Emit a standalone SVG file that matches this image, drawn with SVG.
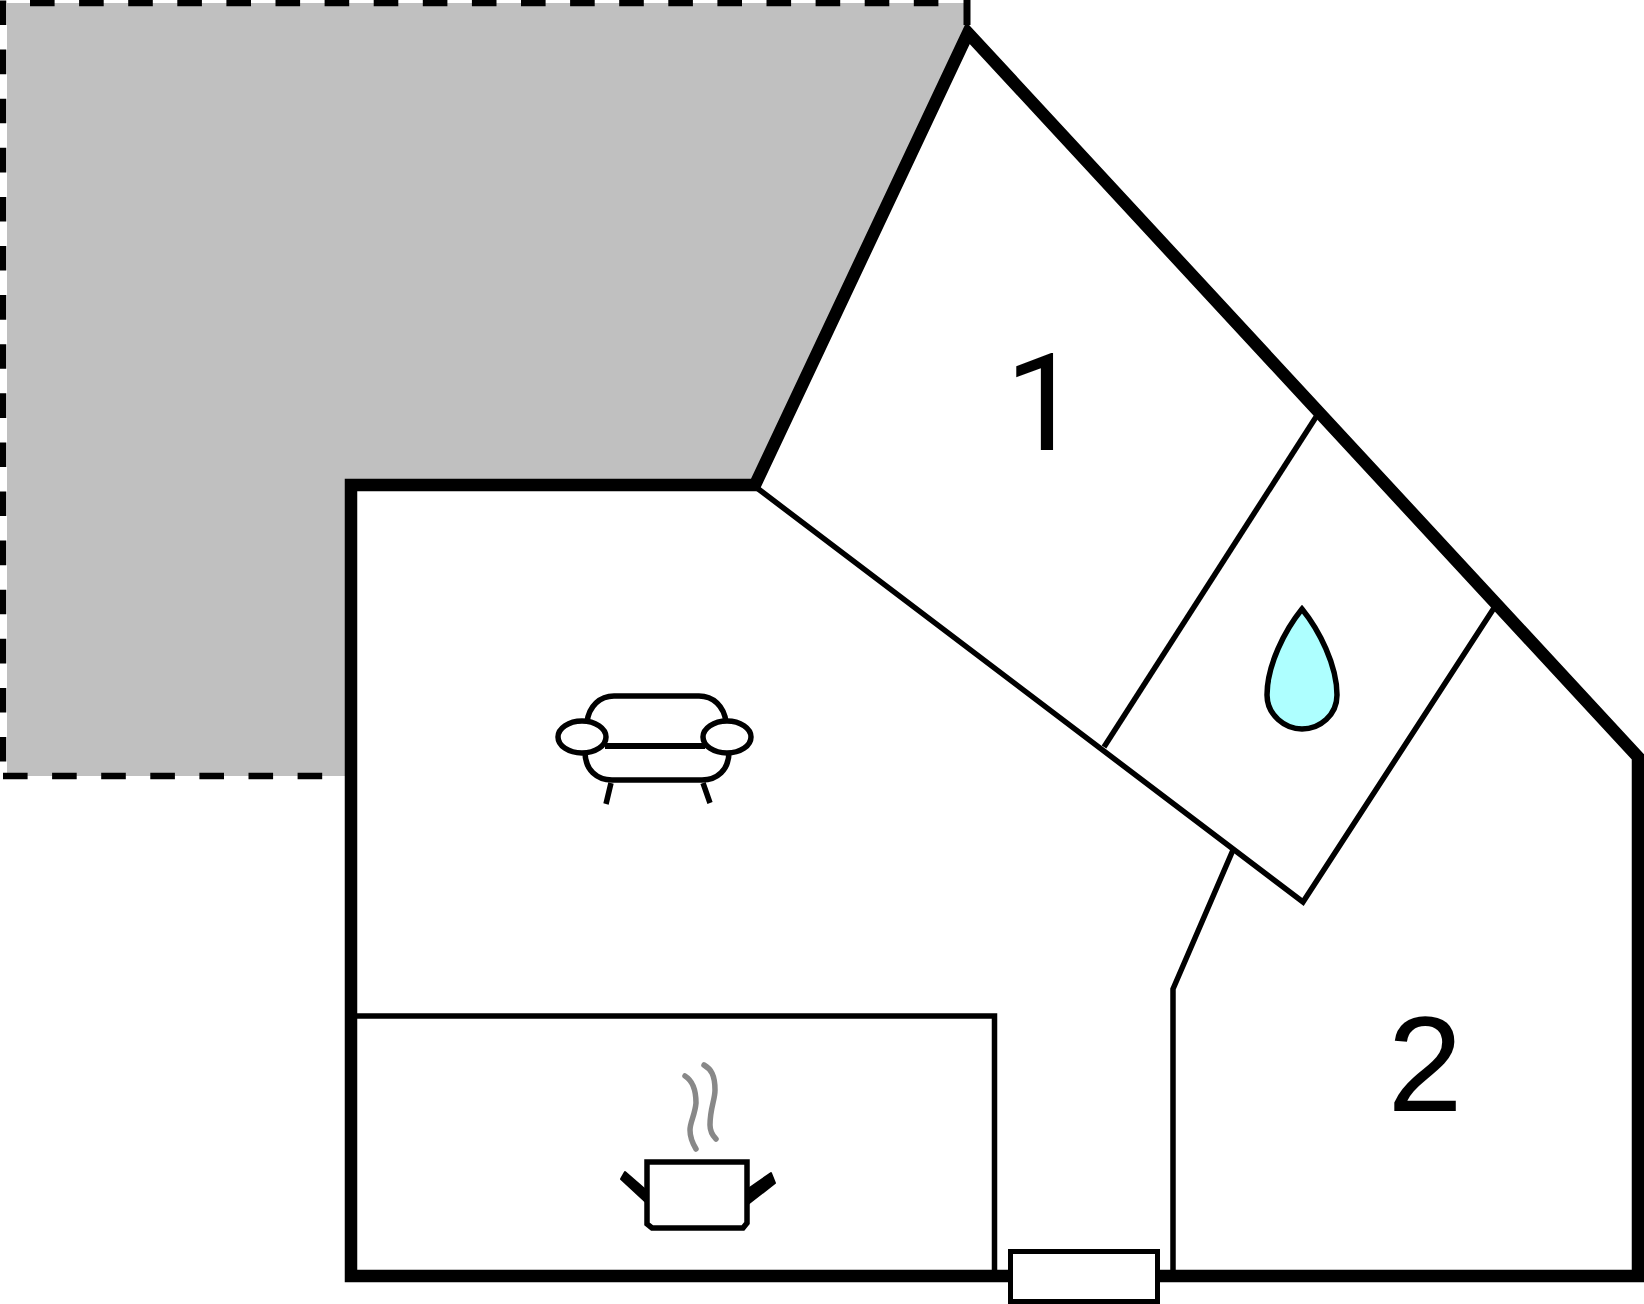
<svg xmlns="http://www.w3.org/2000/svg" width="1644" height="1304" viewBox="0 0 1644 1304">
<style>
.wall{fill:none;stroke:#000;stroke-width:12.500;stroke-linejoin:miter}
.inner{fill:none;stroke:#000;stroke-width:5.500;stroke-linejoin:miter}
.dash{fill:none;stroke:#000;stroke-width:6.500;stroke-dasharray:24.600 24.500}
.icon{fill:#fff;stroke:#000;stroke-width:5.500}
.steam{fill:none;stroke:#888;stroke-width:5.500;stroke-linecap:round}
.num{font-family:"Liberation Sans",Arial,sans-serif;font-size:135px;fill:#000;text-anchor:middle}
</style>
<rect width="1644" height="1304" fill="#fff"/>
<g id="terrace">
<polygon points="7,3 967,3 967,33 755,485 351,485 351,776 7,776" fill="#c0c0c0"/>
<path class="dash" d="M30,3H950"/>
<path class="dash" d="M3,0.500V765"/>
<path class="dash" d="M3,776H330"/>
<path d="M967,0V25" fill="none" stroke="#000" stroke-width="7"/>
</g>
<g id="walls">
<path class="inner" d="M757,488L1303,902L1494,608"/>
<path class="inner" d="M1316,417L1104,747"/>
<path class="inner" d="M1233,850L1173,989V1276"/>
<path class="inner" d="M351,1016H994.500V1276"/>
<polygon class="wall" points="351,1276 351,485 755,485 968,33 1638,757 1638,1276"/>
</g>
<g id="door">
<rect class="icon" x="1010.500" y="1251.500" width="147" height="50" style="stroke-width:5"/>
</g>
<g id="sofa">
<path class="icon" d="M587,722C589,706 600,696 614,696H699C713,696 724,706 726,722"/>
<path class="icon" d="M585,752C585,770 597,780 612,780H702C717,780 729,770 729,752"/>
<path class="icon" d="M605,746H705" style="stroke-width:6"/>
<ellipse class="icon" cx="582" cy="737" rx="24" ry="16"/>
<ellipse class="icon" cx="727" cy="737" rx="24" ry="16"/>
<path class="icon" d="M611,783L606,804M703,783L710,803"/>
</g>
<g id="pot">
<polygon points="621,1179 625,1172 648,1192 648,1204" stroke="#000" stroke-width="2" stroke-linejoin="round"/>
<polygon points="771,1173 775,1183 748,1204 748,1189" stroke="#000" stroke-width="2" stroke-linejoin="round"/>
<path class="icon" d="M647,1162H747V1223L743,1228H652L647,1224Z"/>
<path class="steam" d="M685,1076C693,1081 696,1090 696,1103C695,1115 690,1122 690,1130C690,1138 693,1144 696,1149"/>
<path class="steam" d="M704,1065C711,1069 715,1075 715,1090C715,1100 710,1108 710,1125C710,1132 713,1136 716,1139"/>
</g>
<g id="drop">
<path class="icon" style="fill:#aeffff" d="M1302,609C1285,630 1267,665 1267,695C1267,715 1285,729 1302,729C1320,729 1337,715 1337,695C1337,665 1319,630 1302,609Z"/>
</g>
<g id="room-1"><text class="num" x="1043" y="449.500" style="font-family:Roboto,sans-serif">1</text></g>
<g id="room-2"><text class="num" x="1425" y="1111">2</text></g>
</svg>
